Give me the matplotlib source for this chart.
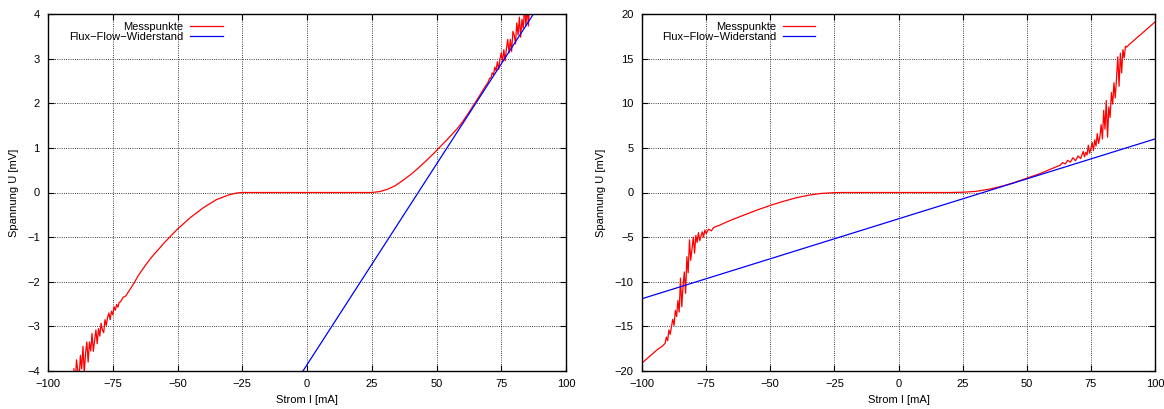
import matplotlib.pyplot as plt
import numpy as np

plt.rcParams['font.family'] = ['Liberation Sans', 'DejaVu Sans']
plt.rcParams['font.size'] = 8

# left panel: measured curve
I_left = [-90, -89.5, -89, -88.5, -88, -87.5, -87, -86.5, -86, -85.5, -85, -84.5, -84,
          -83.5, -83, -82.5, -82, -81.5, -81, -80.5, -80, -79.5, -79, -78.5, -78, -77.5,
          -77, -76.5, -76, -75.5, -75, -74.5, -74, -73.5, -73, -72.5, -72, -71, -70,
          -67, -65, -62, -60, -55, -50, -45, -40, -35, -30, -27, -25,
          25, 28, 31, 34, 37, 40, 43, 46, 49, 52, 55, 58, 60, 62, 64, 66, 68,
          70, 70.5, 71, 71.5, 72, 72.5, 73, 73.5, 74, 74.5, 75, 75.5, 76, 76.5, 77, 77.5,
          78, 78.5, 79, 79.5, 80, 80.5, 81, 81.5, 82, 82.5, 83, 83.5, 84, 84.5, 85, 85.5,
          86, 86.5, 87, 88]
U_left = [-3.95, -4.3, -3.75, -4.0, -4.2, -3.65, -3.95, -3.45, -4.05, -3.6, -3.35, -3.8, -3.35,
          -3.55, -3.16, -3.56, -3.32, -3.08, -3.39, -3.05, -3.22, -2.93, -3.08, -3.14, -2.85, -2.98,
          -2.8, -2.7, -2.85, -2.66, -2.74, -2.56, -2.64, -2.51, -2.57, -2.46, -2.45, -2.35, -2.32,
          -2.05, -1.85, -1.6, -1.45, -1.12, -0.82, -0.56, -0.34, -0.16, -0.05, -0.01, 0.0,
          0.0, 0.02, 0.07, 0.15, 0.27, 0.4, 0.55, 0.71, 0.88, 1.06, 1.24, 1.43, 1.58, 1.75, 1.93, 2.11, 2.3,
          2.48, 2.56, 2.56, 2.68, 2.64, 2.81, 2.73, 2.93, 2.76, 2.99, 3.13, 2.93, 3.2, 2.95, 3.23, 3.43,
          3.13, 3.43, 3.16, 3.61, 3.53, 3.33, 3.8, 3.53, 3.93, 3.48, 3.88, 3.68, 4.18, 3.73, 4.13, 3.73,
          4.28, 4.03, 4.28, 4.28]
# left panel: flux-flow fit line (end points)
I_fit_left = [-100, 100]
U_fit_left = [-12.85, 5.13]

# right panel: measured curve
I_right = [-100, -98, -96, -94, -92,
           -91, -90.5, -90, -89.5, -89, -88.5, -88, -87.5, -87, -86.5, -86, -85.5, -85, -84.5,
           -84, -83.5, -83, -82.5, -82, -81.5, -81, -80.5, -80, -79.5, -79, -78.5, -78, -77.5,
           -77, -76.5, -76, -75.5, -75, -74, -73, -72, -70,
           -67, -64, -60, -55, -50, -45, -40, -35, -30, -25, -22,
           20, 25, 30, 35, 40, 45, 50, 55, 60,
           63, 64, 65, 66, 67, 68, 69, 70, 71, 72, 72.5, 73, 73.5, 74, 74.5, 75, 75.5, 76,
           76.5, 77, 77.5, 78, 78.5, 79, 79.5, 80, 80.5, 81, 81.5, 82, 82.5, 83, 83.5, 84,
           84.5, 85, 85.5, 86, 86.5, 87, 87.5, 88, 88.5, 89,
           90, 92, 94, 96, 98, 100]
U_right = [-19.1, -18.6, -18.1, -17.6, -17.2,
           -16.9, -16.2, -16.6, -15.4, -15.9, -15.0, -14.2, -14.9, -13.2, -13.9, -12.1, -13.4, -9.6, -12.8,
           -10.5, -8.9, -11.3, -7.2, -9.0, -5.3, -7.6, -6.3, -5.0, -6.8, -4.8, -5.6, -4.5, -5.4,
           -4.9, -4.4, -5.0, -4.2, -4.6, -4.1, -4.3, -3.9, -3.7,
           -3.3, -2.95, -2.5, -1.95, -1.45, -1.0, -0.6, -0.3, -0.1, -0.02, 0.0,
           0.0, 0.03, 0.12, 0.35, 0.68, 1.1, 1.6, 2.1, 2.7,
           3.05, 3.35, 3.2, 3.6, 3.4, 3.9, 3.55, 4.1, 3.8, 4.6, 4.0, 4.5, 4.2, 5.3, 4.4, 4.9, 5.6, 4.7,
           5.9, 5.2, 6.6, 5.5, 6.2, 7.6, 6.0, 9.2, 7.1, 10.3, 6.2, 9.6, 8.4, 11.2, 9.9, 12.3,
           10.6, 12.8, 15.2, 11.9, 15.6, 13.4, 16.0, 15.1, 16.4, 16.3,
           16.6, 17.1, 17.6, 18.1, 18.6, 19.1]
I_fit_right = [-100, 100]
U_fit_right = [-11.9, 6.0]

fig = plt.figure(figsize=(11.64, 4.09), dpi=100)
ax1 = fig.add_axes([48 / 1164, 38 / 409, 518 / 1164, 357 / 409])
ax2 = fig.add_axes([642 / 1164, 38 / 409, 513 / 1164, 357 / 409])


def style(ax, ylim, yticks):
    ax.set_xlim(-100, 100)
    ax.set_ylim(*ylim)
    ax.set_xticks(np.arange(-100, 101, 25))
    ax.set_yticks(yticks)
    ax.grid(True, color='black', linestyle=':', linewidth=0.6)
    ax.tick_params(direction='in', top=True, right=True, length=4, width=0.8, pad=6)
    for s in ax.spines.values():
        s.set_linewidth(1.0)
    ax.set_xlabel('Strom I [mA]', labelpad=4)
    ax.set_ylabel('Spannung U [mV]', labelpad=6)
    leg = ax.legend(loc='upper right', bbox_to_anchor=(0.352, 1.0), frameon=False,
                    markerfirst=False, handlelength=2.9, handletextpad=0.6,
                    labelspacing=0.0, borderaxespad=0.3)
    for t in leg.get_texts():
        t.set_ha('right')


ax1.plot(I_left, U_left, color='red', linewidth=0.9, label='Messpunkte')
ax1.plot(I_fit_left, U_fit_left, color='blue', linewidth=0.9, label='Flux−Flow−Widerstand')
style(ax1, (-4, 4), np.arange(-4, 5, 1))

ax2.plot(I_right, U_right, color='red', linewidth=0.9, label='Messpunkte')
ax2.plot(I_fit_right, U_fit_right, color='blue', linewidth=0.9, label='Flux−Flow−Widerstand')
style(ax2, (-20, 20), np.arange(-20, 21, 5))

fig.savefig('out.png', dpi=100)
